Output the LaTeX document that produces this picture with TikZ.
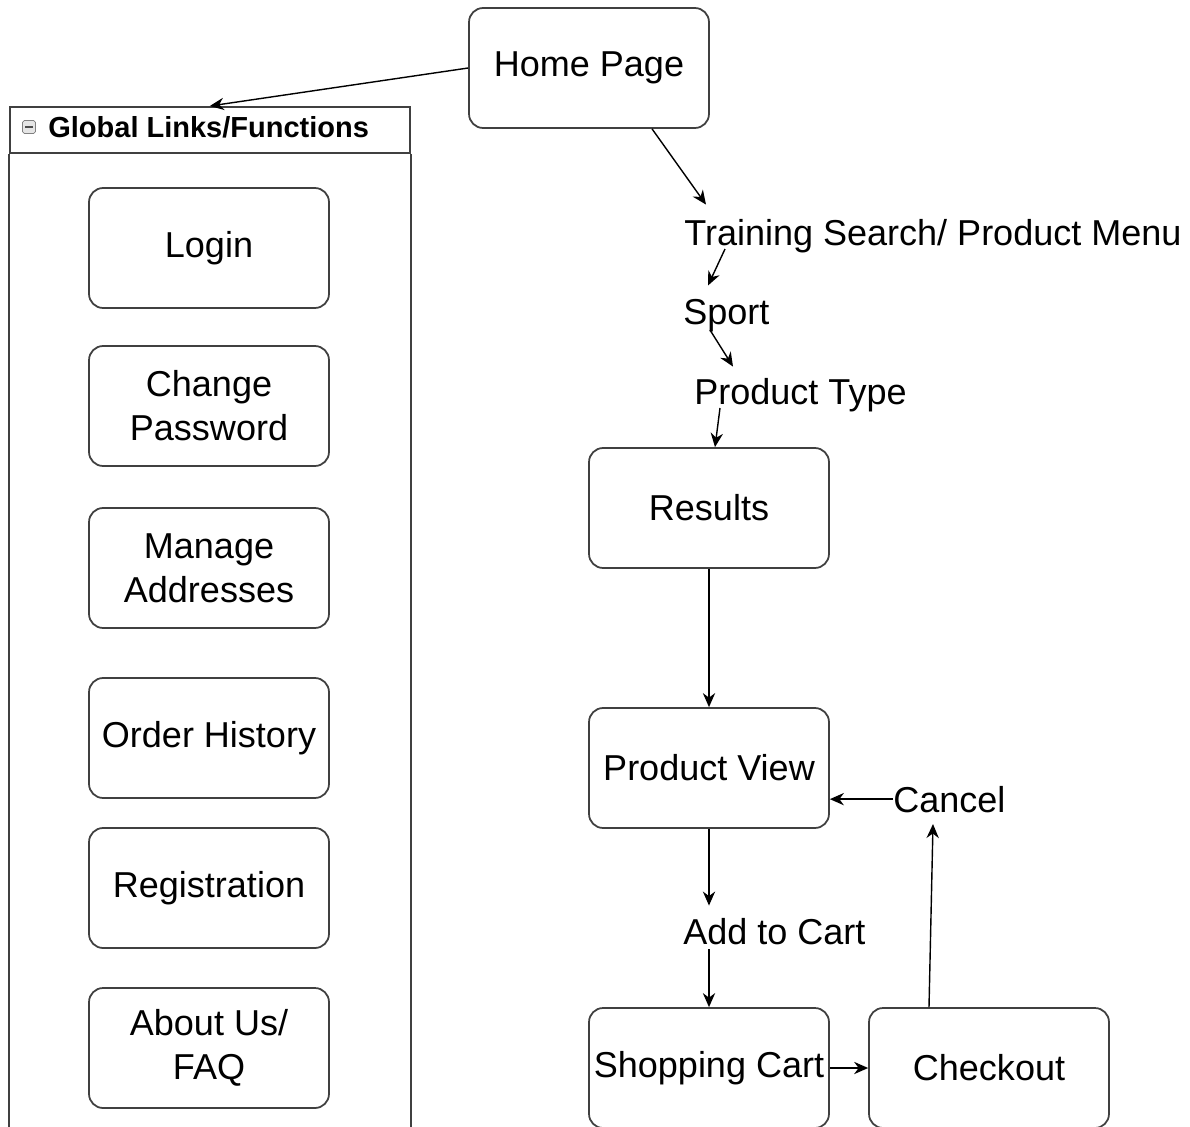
\documentclass[tikz,border=0pt]{standalone}
\usepackage{fontspec}
\setmainfont{Liberation Sans}
\usetikzlibrary{arrows.meta,positioning,calc}
\tikzset{
    page/.style={
        rectangle,
        rounded corners=8pt,
        draw=black!75,
        line width=1pt,
        minimum width=4.8cm,
        minimum height=2.4cm,
        align=center,
        inner sep=2pt,
        font=\fontsize{20.5}{25}\selectfont,
    },
    menu/.style={
        inner sep=0pt,
        anchor=base west,
        font=\fontsize{20.5}{25}\selectfont,
    },
    panel/.style={
        draw=black!75,
        line width=1pt,
    },
    every edge/.style={
        draw,
        ->,>={Stealth[length=8pt,width=7pt]},
        line width=0.8pt,
    },
}

\begin{document}
\begin{tikzpicture}[x=0.02cm,y=-0.02cm]
    \useasboundingbox (0,0) rectangle (1190,1126);
    % global links panel
    \node [panel,anchor=north west,minimum width=8cm,minimum height=0.92cm] (global) at (9,106) {};
    \draw [panel] (global.south west) -- ++(0,1000);
    \draw [panel] (global.south east) -- ++(0,1000);
    \node [draw=black!50,fill=black!10,rounded corners=1pt,minimum size=0.26cm,inner sep=0pt] (fold) at (29,127) {};
    \draw [black!70,line width=1pt] ($(fold.west)+(3,0)$) -- ($(fold.east)+(-3,0)$);
    \node [anchor=west,inner sep=0pt,font=\bfseries\fontsize{16.5}{20}\selectfont] (title) at (48,127) {Global Links/Functions};
    \node [page] (login) at (209,248) {Login};
    \node [page] (chpass) at (209,406) {Change\\Password};
    \node [page] (addr) at (209,568) {Manage\\Addresses};
    \node [page] (orders) at (209,738) {Order History};
    \node [page] (register) at (209,888) {Registration};
    \node [page] (about) at (209,1048) {About Us/\\FAQ};
    % shopping flow
    \node [page] (home) at (589,68) {Home Page};
    \node [menu] (search) at (684,245) {Training Search/ Product Menu};
    \node [menu] (sport) at (683,324) {Sport};
    \node [menu] (ptype) at (694,404) {Product Type};
    \node [page] (results) at (709,508) {Results};
    \node [page] (pview) at (709,768) {Product View};
    \node [menu] (cancel) at (893,812) {Cancel};
    \node [menu] (addcart) at (683,944) {Add to Cart};
    \node [page] (cart) at (709,1068) {Shopping Cart};
    \node [page] (checkout) at (989,1068) {Checkout};
    \draw (home.west) edge (global.north);
    \draw (home.-44) edge ($(search.north west)+(22,-14)$);
    \draw ($(search.base west)+(41,4)$) edge ($(sport.north west)+(25,-13)$);
    \draw ($(sport.base west)+(27,6)$) edge ($(ptype.north west)+(39,-11)$);
    \draw ($(ptype.base west)+(26,4)$) edge ($(results.north)+(6,0)$);
    \draw (results.south) edge (pview.north);
    \draw (pview.south) edge ($(pview.south |- addcart.north)+(0,-12)$);
    \draw ($(addcart.base west)+(26,5)$) edge (cart.north);
    \draw (cart.east) edge (checkout.west);
    \draw ($(checkout.north)+(-60,0)$) edge ($(cancel.base west)+(40,12)$);
    \draw (cancel.west) edge (cancel.west -| pview.east);
\end{tikzpicture}
\end{document}
